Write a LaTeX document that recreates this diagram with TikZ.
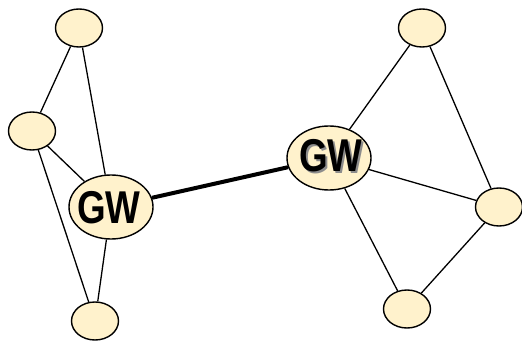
\documentclass[tikz,border=0pt]{standalone}
\usepackage{fontspec}
\setmainfont{Liberation Sans}
\usetikzlibrary{shapes.geometric}
\definecolor{nodefill}{HTML}{FFF2CC}
\definecolor{shadowgray}{HTML}{8C8C8C}
\newcommand{\gwtext}{\scalebox{0.8}[1]{\fontsize{46}{46}\selectfont\bfseries GW}}
\newcommand{\gwshadowed}{\makebox[0pt][l]{\hspace{2pt}\raisebox{-2pt}{\color{shadowgray}\gwtext}}\gwtext}
\tikzset{
  host/.style={ellipse, draw=black, line width=1.4pt, fill=nodefill,
    minimum width=47pt, minimum height=38pt, inner sep=0pt},
  gateway/.style={ellipse, draw=black, line width=1.4pt, fill=nodefill,
    minimum width=84pt, minimum height=64pt, inner sep=0pt},
  link/.style={line width=1.3pt},
  trunk/.style={line width=4pt}
}
\begin{document}
\begin{tikzpicture}[x=1pt,y=-1pt]
\useasboundingbox (0,0) rectangle (522,342);
% left cluster
\node[host] (l1) at (79,28) {};
\node[host] (l2) at (32,131) {};
\node[host] (l3) at (95,321) {};
% right cluster
\node[host] (r1) at (422,28) {};
\node[host] (r2) at (499,207) {};
\node[host] (r3) at (407,309) {};
% gateways
\node[gateway] (gwl) at (111,207) {};
\node[gateway] (gwr) at (329,158) {};
% links
\draw[link] (l1) -- (l2);
\draw[link] (l1) -- (gwl);
\draw[link] (l2) -- (gwl);
\draw[link] (l2) -- (l3);
\draw[link] (gwl) -- (l3);
\draw[link] (r1) -- (gwr);
\draw[link] (r1) -- (r2);
\draw[link] (gwr) -- (r2);
\draw[link] (gwr) -- (r3);
\draw[link] (r2) -- (r3);
\draw[trunk] (gwl) -- (gwr);
% labels
\node[inner sep=0pt] (tl) at (109,208) {\gwtext};
\node[inner sep=0pt] (tr) at (331,157) {\gwshadowed};
\end{tikzpicture}
\end{document}
